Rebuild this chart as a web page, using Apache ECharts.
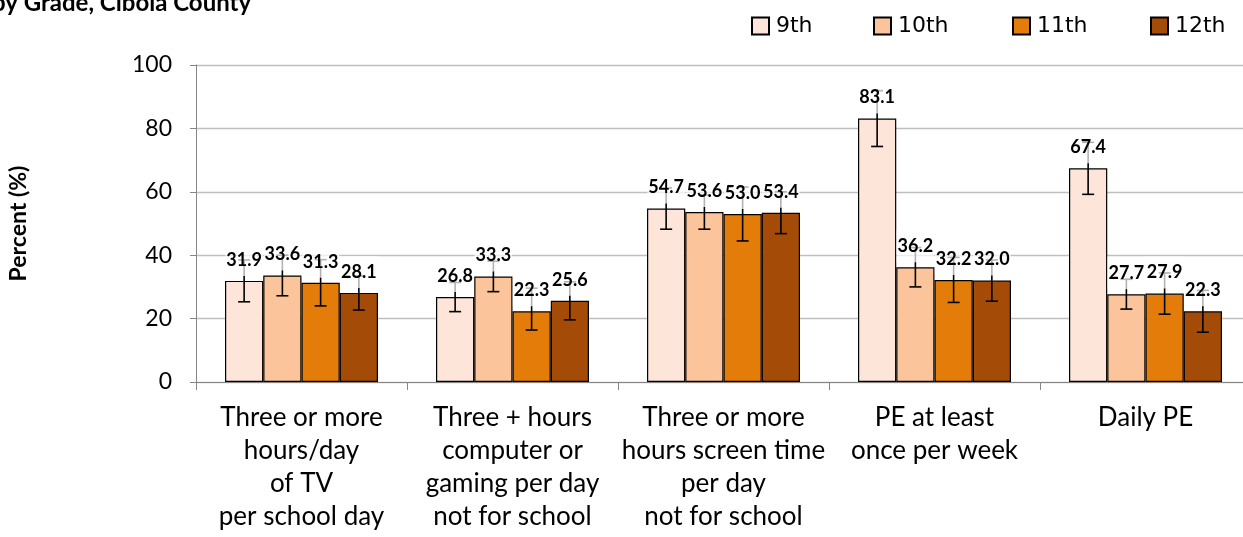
<!DOCTYPE html>
<html>
<head>
<meta charset="utf-8">
<script src="https://cdn.jsdelivr.net/npm/echarts@6/dist/echarts.min.js"></script>
<style>
html,body{margin:0;padding:0;background:#fff;}
#chart{width:1243px;height:537px;}
</style>
</head>
<body>
<div id="chart"></div>
<script>
const categories = [
  'Three or more\nhours/day\nof TV\nper school day',
  'Three + hours\ncomputer or\ngaming per day\nnot for school',
  'Three or more\nhours screen time\nper day\nnot for school',
  'PE at least\nonce per week',
  'Daily PE'
];
const seriesNames = ['9th', '10th', '11th', '12th'];
const grade9  = [31.9, 26.8, 54.7, 83.1, 67.4];
const grade10 = [33.6, 33.3, 53.6, 36.2, 27.7];
const grade11 = [31.3, 22.3, 53.0, 32.2, 27.9];
const grade12 = [28.1, 25.6, 53.4, 32.0, 22.3];
const lower9  = [25.3, 22.2, 48.2, 74.3, 59.2];
const upper9  = [38.5, 31.4, 61.2, 91.9, 75.6];
const lower10 = [27.2, 28.5, 48.2, 30.0, 23.0];
const upper10 = [40.0, 38.1, 59.0, 42.4, 32.4];
const lower11 = [24.0, 16.4, 44.5, 25.1, 21.4];
const upper11 = [38.6, 29.6, 61.5, 39.3, 34.4];
const lower12 = [22.7, 19.6, 46.8, 25.5, 15.7];
const upper12 = [33.5, 31.6, 60.0, 38.5, 28.9];
const yTicks = [0, 20, 40, 60, 80, 100];

const values = [grade9, grade10, grade11, grade12];
const lowers = [lower9, lower10, lower11, lower12];
const uppers = [upper9, upper10, upper11, upper12];
const colors = ['#FDE5D9', '#FBC49A', '#E47C0A', '#A34B07'];
const CAT_GAP = 0.275;

const chart = echarts.init(document.getElementById('chart'));

const errData = [];
const labelData = [];
values.forEach((arr, s) => {
  arr.forEach((v, c) => {
    errData.push([c, lowers[s][c], uppers[s][c], s]);
    labelData.push([c, v, s]);
  });
});

function barX(api, cat, s) {
  const band = api.size([1, 0])[0];
  const bw = band * (1 - CAT_GAP) / 4;
  return api.coord([cat, 0])[0] + (s - 1.5) * bw;
}

const barSeries = values.map((arr, s) => ({
  name: seriesNames[s],
  type: 'bar',
  data: arr,
  barGap: '0%',
  barCategoryGap: (CAT_GAP * 100) + '%',
  itemStyle: { color: colors[s], borderColor: '#000', borderWidth: 1.2 },
  emphasis: { disabled: true },
  z: 2
}));

const legends = seriesNames.map((n, i) => ({
  data: [n],
  left: [751, 873, 1012, 1150][i],
  top: 15,
  padding: 0,
  icon: 'rect',
  itemWidth: 17,
  itemHeight: 17,
  itemGap: 0,
  selectedMode: false,
  textStyle: { fontFamily: 'DejaVu Sans', fontSize: 22, color: '#000', padding: [0, 0, 0, 2] }
}));

chart.setOption({
  animation: false,
  backgroundColor: '#fff',
  graphic: [{
    type: 'text',
    left: -8,
    top: -9,
    style: { text: 'by Grade, Cibola County', font: 'bold 24px Lato', fill: '#000' }
  }],
  legend: legends,
  grid: { left: 196, right: -8, top: 65, bottom: 155, containLabel: false, outerBoundsMode: 'none' },
  xAxis: {
    type: 'category',
    data: categories,
    axisLine: { lineStyle: { color: '#868686', width: 1 } },
    axisTick: { show: true, length: 8, lineStyle: { color: '#868686' } },
    axisLabel: { interval: 0, margin: 19, fontFamily: 'Lato', fontSize: 26, lineHeight: 33, color: '#000' }
  },
  yAxis: {
    type: 'value',
    min: 0, max: 100, interval: 20,
    name: 'Percent (%)',
    nameLocation: 'middle',
    nameRotate: 90,
    nameGap: 166,
    nameTextStyle: { fontFamily: 'Lato', fontWeight: 'bold', fontSize: 23, color: '#000' },
    axisLine: { show: true, lineStyle: { color: '#868686' } },
    axisTick: { show: true, length: 6, lineStyle: { color: '#868686' } },
    splitLine: { lineStyle: { color: '#BFBFBF', width: 1.3 } },
    axisLabel: {
      margin: 24, fontFamily: 'Lato', fontSize: 23, color: '#000',
      formatter: v => yTicks.indexOf(v) >= 0 ? String(v) : ''
    }
  },
  series: barSeries.concat([
    {
      type: 'custom',
      name: 'err',
      data: errData,
      encode: { x: 0, y: [1, 2] },
      z: 3,
      clip: false,
      renderItem: function (params, api) {
        const cat = api.value(0), lo = api.value(1), hi = api.value(2), s = api.value(3);
        const x = barX(api, cat, s);
        const yl = api.coord([cat, lo])[1];
        const yh = api.coord([cat, hi])[1];
        const st = { stroke: '#000', lineWidth: 1.6 };
        return {
          type: 'group',
          children: [
            { type: 'line', shape: { x1: x, y1: yl, x2: x, y2: yh }, style: st },
            { type: 'line', shape: { x1: x - 6, y1: yl, x2: x + 6, y2: yl }, style: st },
            { type: 'line', shape: { x1: x - 6, y1: yh, x2: x + 6, y2: yh }, style: st }
          ]
        };
      }
    },
    {
      type: 'custom',
      name: 'lbl',
      data: labelData,
      encode: { x: 0, y: 1 },
      z: 4,
      clip: false,
      renderItem: function (params, api) {
        const cat = api.value(0), v = api.value(1), s = api.value(2);
        const x = barX(api, cat, s);
        const y = api.coord([cat, v])[1] - 21;
        return {
          type: 'text',
          style: {
            x: x, y: y,
            text: v.toFixed(1),
            font: 'bold 18px Lato',
            fill: '#000',
            align: 'center',
            verticalAlign: 'middle',
            backgroundColor: 'rgba(255,255,255,0.7)',
            padding: [7, 1, 7, 1]
          }
        };
      }
    }
  ])
});
</script>
</body>
</html>
